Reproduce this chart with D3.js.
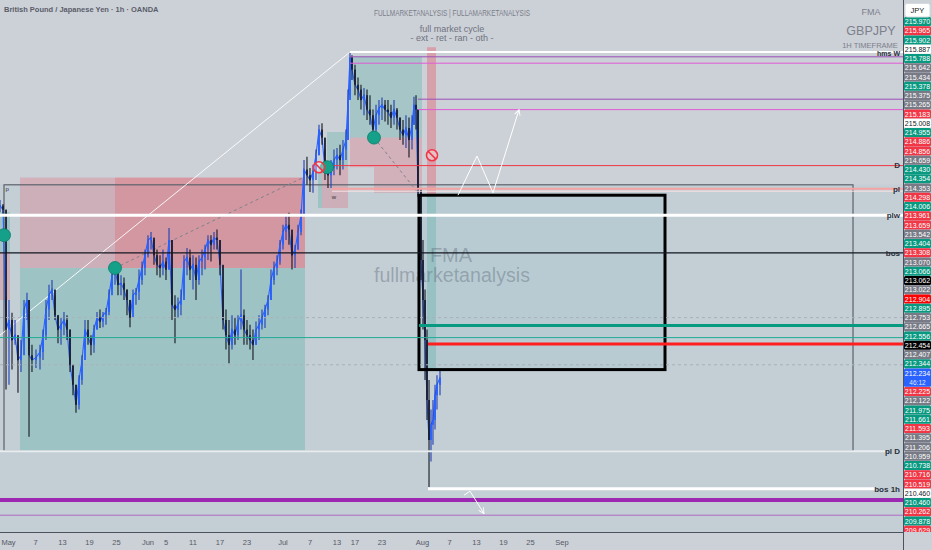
<!DOCTYPE html>
<html><head><meta charset="utf-8">
<script src="https://cdn.jsdelivr.net/npm/d3@7"></script>
<style>
html,body{margin:0;padding:0;background:#ccd0d7;}
svg{display:block;font-family:"Liberation Sans",Arial,sans-serif;}
</style></head><body>
<svg id="c" width="932" height="550"></svg>
<script>
// ---------- DATA (days since 1 May 2025, prices in JPY) ----------
const barDay = [-1.78,-1.11,-0.44,0.22,0.89,1.56,2.22,2.89,3.56,4.22,4.67,5.33,6.22,7.11,7.78,8.44,9.11,9.78,10.44,11.11,11.78,12.44,13.11,13.78,14.44,15.11,15.78,16.44,17.11,17.78,18.44,19.11,19.78,20.44,21.11,21.78,22.44,23.11,23.78,24.44,25.11,25.78,26.44,27.11,27.78,28.44,29.11,29.78,30.44,31.11,31.78,32.44,33.11,33.78,34.44,35.11,35.78,36.44,37.11,37.78,38.44,39.11,39.78,40.44,41.11,41.78,42.44,43.11,43.78,44.44,45.11,45.78,46.44,47.11,47.78,48.44,49.11,49.78,50.44,51.11,51.78,52.44,53.11,53.78,54.44,55.11,55.78,56.44,57.11,57.78,58.44,59.11,59.78,60.44,61.11,61.78,62.44,63.11,63.78,64.44,65.11,65.78,66.44,67.11,67.78,68.44,69.11,69.78,70.44,71.11,71.78,72.44,73.11,73.78,74.44,75.11,75.56,76.00,76.44,77.11,77.78,78.44,79.11,79.78,80.44,81.11,81.78,82.44,83.11,83.78,84.44,85.11,85.78,86.44,87.11,87.78,88.44,89.11,89.78,90.22,90.67,91.11,91.78,92.22,92.67,93.11,93.56,94.00,94.44,94.89,95.33,96.00];
const barHigh = [214.00,213.95,212.79,212.75,212.59,212.50,212.19,212.25,212.75,212.84,212.75,212.19,212.13,212.19,212.38,212.75,212.94,213.00,212.81,212.56,212.53,212.60,212.56,212.38,211.94,211.69,211.81,212.06,212.50,212.50,212.31,212.44,212.60,212.63,212.60,212.65,212.88,213.15,213.19,213.10,213.06,213.03,212.88,212.75,212.88,212.90,213.13,213.23,213.38,213.56,213.60,213.50,213.38,213.31,213.38,213.28,213.65,213.50,212.81,212.78,212.88,213.31,213.40,213.38,213.31,213.28,213.31,213.38,213.44,213.56,213.56,213.60,213.63,213.50,212.88,212.63,212.50,212.56,212.53,212.56,213.13,212.63,212.50,212.44,212.38,212.48,212.56,212.63,212.69,212.81,213.13,213.23,213.31,213.50,213.69,213.81,213.84,213.56,213.44,213.69,213.88,214.50,214.54,214.40,214.44,214.63,214.94,214.96,214.63,214.44,214.50,214.63,214.65,214.69,214.75,214.88,215.38,215.84,215.81,215.69,215.53,215.44,215.40,215.38,215.31,215.13,215.19,215.25,215.28,215.25,215.25,215.19,215.25,215.15,215.03,215.00,215.06,215.03,215.06,215.29,215.31,215.13,214.06,213.50,212.88,212.38,211.75,211.38,211.50,211.69,211.81,211.88];
const barLow = [213.85,213.83,211.63,211.69,211.88,212.19,211.59,211.85,212.25,212.50,211.04,211.85,211.90,211.88,212.00,212.25,212.50,212.75,212.50,212.21,212.19,212.31,212.25,211.85,211.56,211.34,211.38,211.69,212.13,212.19,212.06,212.09,212.38,212.40,212.41,212.44,212.56,212.88,212.94,212.81,212.81,212.75,212.56,212.41,212.63,212.69,212.75,212.94,213.06,213.28,213.38,213.19,213.06,213.03,213.06,213.00,213.13,212.50,212.21,212.53,212.56,212.81,213.06,213.00,212.88,212.75,212.94,213.06,213.13,213.25,213.23,213.38,213.38,213.06,212.38,212.13,211.96,212.13,212.19,212.25,212.38,212.19,212.19,212.13,212.00,212.19,212.25,212.38,212.40,212.56,212.75,212.94,213.06,213.19,213.38,213.50,213.44,213.13,213.15,213.38,213.56,213.81,214.19,214.10,214.09,214.25,214.56,214.69,214.25,214.15,214.15,214.31,214.38,214.31,214.38,214.50,214.75,215.31,215.50,215.31,215.25,215.13,215.06,215.00,214.94,214.79,214.81,214.94,215.00,214.98,214.94,214.90,214.94,214.88,214.75,214.69,214.65,214.53,214.63,214.94,214.88,214.04,213.00,212.38,211.75,211.25,210.41,210.73,210.94,211.13,211.38,211.56];
const barClose = [213.93,213.88,212.38,212.50,212.25,212.31,212.00,212.06,212.63,212.75,212.06,212.00,212.03,212.10,212.31,212.63,212.81,212.88,212.56,212.38,212.44,212.50,212.38,211.94,211.69,211.44,211.75,212.00,212.38,212.28,212.19,212.38,212.53,212.48,212.56,212.60,212.81,213.06,213.13,212.94,212.96,212.88,212.75,212.53,212.81,212.85,213.00,213.15,213.31,213.50,213.53,213.31,213.19,213.15,213.23,213.13,213.50,212.69,212.63,212.69,212.75,213.23,213.28,213.13,213.19,213.00,213.23,213.28,213.38,213.50,213.44,213.53,213.50,213.19,212.50,212.31,212.19,212.38,212.31,212.48,212.56,212.38,212.31,212.25,212.19,212.38,212.44,212.53,212.63,212.75,213.00,213.15,213.23,213.44,213.60,213.69,213.63,213.31,213.38,213.60,213.81,214.38,214.31,214.25,214.35,214.56,214.88,214.78,214.38,214.31,214.40,214.50,214.56,214.50,214.63,214.75,215.25,215.78,215.63,215.44,215.38,215.25,215.31,215.13,215.06,214.88,215.06,215.15,215.19,215.13,215.10,215.03,215.13,215.03,214.88,214.81,214.90,214.75,214.94,215.19,215.13,214.13,213.25,212.75,212.25,211.50,211.00,211.19,211.25,211.56,211.69,211.78];

// position-tool zones: [dayStart, dayEnd, priceTop, priceBottom, kind]
const zones = [
  [2.67,66.0,214.28,213.15,'loss'],
  [23.78,66.0,214.28,213.15,'loss'],
  [2.67,66.0,213.15,210.86,'profit'],
  [-1.78,0.44,213.85,213.35,'profit'],
  [-1.78,0.44,213.35,212.75,'loss'],
  [70.89,75.56,214.85,214.41,'profit'],
  [69.78,75.56,214.41,213.90,'loss'],
  [68.89,69.78,214.41,213.90,'profit'],
  [76.0,92.0,215.79,214.78,'profit'],
  [76.0,81.33,214.78,214.41,'loss'],
  [81.33,92.0,214.78,214.09,'loss'],
  [93.11,95.11,215.91,214.06,'lossStrong'],
  [93.11,95.11,214.06,211.88,'profit']
];
const tintTop = 214.19;
const bigRect = [-0.89,187.78,214.19,210.86];
const blackBox = [91.33,146.0,214.06,211.88];

// horizontal levels
const hLinePrice = [215.85,215.79,215.71,215.26,215.13,214.43,214.14,214.11,213.81,213.34,212.53,211.94,212.43,212.28,212.20,210.86,210.39,210.25,210.06];
const hLineStart = [76.0,76.0,76.0,91.11,91.11,70.0,72.0,72.0,null,null,null,null,91.33,null,93.33,null,93.33,null,null];
const hLineEnd   = [null,null,null,null,null,null,null,null,null,null,null,null,null,null,null,194.89,192.89,null,null];
const hLineKind  = ['white','purple','magenta','purple','magenta','red','salmon','pinkThin','whiteThick','black','dashed','dashed','green','tealThin','redThick','whitePl','whiteThick','purpleThick','purpleThin'];
const hLineLabel = ['hms W','','','','','D','pl','','plw','bos','','','','','','pl D','bos 1h','',''];

// markers
const entryCircles = [[-0.89,213.56],[23.78,213.15],[70.89,214.41],[81.33,214.78]];
const noSigns = [[69.11,214.41],[94.22,214.56]];
const whiteTrend = [[-1.78,212.31],[76.0,215.85]];
const dashedLinks = [[[23.78,213.15],[65.56,214.28]],[[81.33,214.78],[91.11,214.09]]];
const arrowPaths = [[[100.0,214.06],[104.22,214.55],[107.78,214.09],[113.56,215.13]],[[101.33,210.31],[102.67,210.36],[105.78,210.08]]];

// right price-axis labels (stacked)
const axisVals = ['215.970','215.965','215.902','215.887','215.788','215.642','215.434','215.378','215.375','215.265','215.183','215.008','214.955','214.886','214.856','214.659','214.430','214.354','214.353','214.298','214.006','213.961','213.659','213.542','213.404','213.308','213.070','213.066','213.062','213.022','212.904','212.895','212.753','212.665','212.556','212.454','212.407','212.344','212.234','212.225','212.122','211.975','211.661','211.593','211.395','211.206','210.959','210.738','210.716','210.519','210.460','210.460','210.262','209.878','209.629'];
const axisKinds = ['g','r','g','w','g','n','n','g','n','n','r','w','g','r','r','n','g','g','n','r','g','r','r','n','g','r','n','g','k','n','R','g','n','n','g','k','n','g','b','r','n','g','g','r','n','n','n','g','r','r','w','g','r','g','r'];
const countdown = '46:12';

// time-axis ticks
const xTickDates = ['2025-05-01','2025-05-07','2025-05-13','2025-05-19','2025-05-25','2025-06-01','2025-06-05','2025-06-11','2025-06-17','2025-06-23','2025-07-01','2025-07-07','2025-07-13','2025-07-17','2025-07-23','2025-08-01','2025-08-07','2025-08-13','2025-08-19','2025-08-25','2025-09-01'];
const xTickLabels = ['May','7','13','19','25','Jun','5','11','17','23','Jul','7','13','17','23','Aug','7','13','19','25','Sep'];

// ---------- CHART ----------
const W=932,H=550,plotR=903,plotB=532;
const t0 = Date.UTC(2025,4,1);
const toDate = d => new Date(t0 + d*864e5);
const x = d3.scaleUtc().domain([new Date(Date.UTC(2025,4,1)), new Date(Date.UTC(2025,8,1))]).range([8,561.5]);
const y = d3.scaleLinear().domain([209.85,216.5]).range([plotB,0]);
const X = d => x(toDate(d));

const svg = d3.select('#c');
const defs = svg.append('defs');
defs.append('clipPath').attr('id','clip').append('rect').attr('x',0).attr('y',0).attr('width',plotR).attr('height',plotB);
defs.append('clipPath').attr('id','clipAx').append('rect').attr('x',plotR).attr('y',0).attr('width',W-plotR).attr('height',plotB);
defs.append('marker').attr('id','arr').attr('viewBox','0 0 10 10').attr('refX',9).attr('refY',5)
  .attr('markerWidth',7).attr('markerHeight',7).attr('orient','auto-start-reverse')
  .append('path').attr('d','M1,1 L9,5 L1,9').attr('fill','none').attr('stroke','#fff').attr('stroke-width',1.3);

svg.append('rect').attr('width',W).attr('height',H).attr('fill','#ccd0d7');
const plot = svg.append('g').attr('clip-path','url(#clip)');

// tint area
plot.append('rect').attr('x',0).attr('y',y(tintTop)).attr('width',plotR).attr('height',plotB-y(tintTop)).attr('fill','#c3ced5');

const zoneFill = {profit:'rgba(8,153,129,0.2)',loss:'rgba(242,54,69,0.2)',lossStrong:'rgba(242,54,69,0.3)'};
plot.selectAll('rect.zone').data(zones).join('rect').attr('class','zone')
  .attr('x',d=>X(d[0])).attr('width',d=>X(d[1])-X(d[0]))
  .attr('y',d=>y(d[2])).attr('height',d=>y(d[3])-y(d[2]))
  .attr('fill',d=>zoneFill[d[4]]);

// black box fill
plot.append('rect').attr('x',X(blackBox[0])).attr('y',y(blackBox[2]))
  .attr('width',X(blackBox[1])-X(blackBox[0])).attr('height',y(blackBox[3])-y(blackBox[2]))
  .attr('fill','rgba(110,180,190,0.12)');

// big rectangle outline
plot.append('rect').attr('x',X(bigRect[0])).attr('y',y(bigRect[2]))
  .attr('width',X(bigRect[1])-X(bigRect[0])).attr('height',y(bigRect[3])-y(bigRect[2]))
  .attr('fill','none').attr('stroke','#5d616c').attr('stroke-width',1.2);
plot.append('text').attr('x',X(bigRect[0])+1.5).attr('y',y(bigRect[2])+6).attr('font-size',6).attr('fill','#333').text('p');

// watermark
plot.append('text').attr('x',451).attr('y',262).attr('text-anchor','middle').attr('font-size',20)
  .attr('fill','rgba(100,112,126,0.45)').text('FMA');
plot.append('text').attr('x',452).attr('y',282).attr('text-anchor','middle').attr('font-size',20)
  .attr('textLength',156).attr('lengthAdjust','spacingAndGlyphs')
  .attr('fill','rgba(100,112,126,0.45)').text('fullmarketanalysis');

// white trend line
const ln = d3.line().x(d=>X(d[0])).y(d=>y(d[1]));
plot.append('path').attr('d',ln(whiteTrend)).attr('stroke','rgba(255,255,255,0.9)').attr('stroke-width',1).attr('fill','none');
dashedLinks.forEach(p=>plot.append('path').attr('d',ln(p)).attr('stroke','#7d828d').attr('stroke-width',1).attr('stroke-dasharray','3,3').attr('fill','none'));

// candles
const bars = barDay.map((d,i)=>({d,h:barHigh[i],l:barLow[i],c:barClose[i],o:i?barClose[i-1]:barClose[i]}));
plot.append('path').attr('d',d3.line().x(b=>X(b.d)).y(b=>y(b.c))(bars))
  .attr('fill','none').attr('stroke','#2962ff').attr('stroke-width',1.1);
plot.selectAll('line.wick').data(bars).join('line').attr('class','wick')
  .attr('x1',b=>X(b.d)).attr('x2',b=>X(b.d)).attr('y1',b=>y(b.h)).attr('y2',b=>y(b.l))
  .attr('stroke',b=>b.c>=b.o?'#1f3fb8':'#131722').attr('stroke-width',1.1);
plot.selectAll('rect.body').data(bars).join('rect').attr('class','body')
  .attr('x',b=>X(b.d)-0.9).attr('width',1.8)
  .attr('y',b=>y(Math.max(b.o,b.c))).attr('height',b=>Math.max(1,Math.abs(y(b.o)-y(b.c))))
  .attr('fill',b=>b.c>=b.o?'#2962ff':'#1a1f36');

// black box outline
plot.append('rect').attr('x',X(blackBox[0])).attr('y',y(blackBox[2]))
  .attr('width',X(blackBox[1])-X(blackBox[0])).attr('height',y(blackBox[3])-y(blackBox[2]))
  .attr('fill','none').attr('stroke','#000').attr('stroke-width',3);

// horizontal levels
const lineStyle = {
  white:['#ffffff',2],purple:['#9c4fb8',1],magenta:['#e05ad6',1],red:['#f23645',1],
  salmon:['#f4a2a2',2],pinkThin:['#fbe3e3',1],whiteThick:['#ffffff',3],black:['#131722',1.3],
  dashed:['#a9b1b9',1],green:['#089981',3],tealThin:['#22ab94',1],redThick:['#ff1f1f',3],
  whitePl:['#e8edf0',2],purpleThick:['#9c27b0',4],purpleThin:['#b06ac2',1]
};
hLinePrice.forEach((p,i)=>{
  const st = lineStyle[hLineKind[i]];
  const x1 = hLineStart[i]===null?0:X(hLineStart[i]);
  const x2 = hLineEnd[i]===null?plotR:X(hLineEnd[i]);
  plot.append('line').attr('x1',x1).attr('x2',x2).attr('y1',y(p)).attr('y2',y(p))
    .attr('stroke',st[0]).attr('stroke-width',st[1])
    .attr('stroke-dasharray',hLineKind[i]==='dashed'?'3,3':null);
});
// entry circles
plot.selectAll('circle.entry').data(entryCircles).join('circle').attr('class','entry')
  .attr('cx',d=>X(d[0])).attr('cy',d=>y(d[1])).attr('r',6.5)
  .attr('fill','#14a089').attr('stroke','#0d7d6b').attr('stroke-width',0.8);
// no signs
noSigns.forEach(d=>{
  const g = plot.append('g').attr('transform',`translate(${X(d[0])},${y(d[1])})`);
  g.append('circle').attr('r',5.5).attr('fill','rgba(255,255,255,0.35)').attr('stroke','#f23645').attr('stroke-width',1.6);
  g.append('line').attr('x1',-3.9).attr('y1',-3.9).attr('x2',3.9).attr('y2',3.9).attr('stroke','#f23645').attr('stroke-width',1.6);
});
// projection arrows
arrowPaths.forEach(p=>plot.append('path').attr('d',ln(p)).attr('fill','none').attr('stroke','#fff').attr('stroke-width',1).attr('marker-end','url(#arr)'));
plot.append('text').attr('x',X(72.44)).attr('y',y(214.09)+6).attr('text-anchor','middle').attr('font-size',6).attr('fill','#333').text('w');

// level labels
hLinePrice.forEach((p,i)=>{
  if(!hLineLabel[i]) return;
  const first = i===0;
  plot.append('text').attr('x',900).attr('y',y(p)+(first?1.5:0)).attr('dy','0.35em').attr('text-anchor','end')
    .attr('font-size',first?7:8).attr('font-weight','bold').attr('fill','#2a2e39').text(hLineLabel[i]);
});

// top texts
svg.append('text').attr('x',4).attr('y',12).attr('font-size',7.5).attr('font-weight','bold').attr('fill','#5a5e6a')
  .text('British Pound / Japanese Yen · 1h · OANDA');
svg.append('text').attr('x',452).attr('y',16).attr('text-anchor','middle').attr('font-size',8.5)
  .attr('textLength',156).attr('lengthAdjust','spacingAndGlyphs').attr('fill','#7a7e89')
  .text('FULLMARKETANALYSIS | FULLAMARKETANALYSIS');
svg.append('text').attr('x',452).attr('y',32).attr('text-anchor','middle').attr('font-size',9).attr('fill','#6f737e').text('full market cycle');
svg.append('text').attr('x',452).attr('y',41).attr('text-anchor','middle').attr('font-size',9).attr('fill','#6f737e').text('- ext - ret - ran - oth -');
svg.append('text').attr('x',871).attr('y',15).attr('text-anchor','middle').attr('font-size',9).attr('fill','#7c808b').text('FMA');
svg.append('text').attr('x',871).attr('y',35).attr('text-anchor','middle').attr('font-size',12.5).attr('fill','#7c808b').text('GBPJPY');
svg.append('text').attr('x',870).attr('y',47.5).attr('text-anchor','middle').attr('font-size',7.5).attr('fill','#7c808b').text('1H TIMEFRAME');

// axes lines
svg.append('line').attr('x1',0).attr('x2',plotR).attr('y1',plotB+0.5).attr('y2',plotB+0.5).attr('stroke','#4d515c');
svg.append('line').attr('x1',plotR+0.5).attr('x2',plotR+0.5).attr('y1',0).attr('y2',H).attr('stroke','#4d515c');

// bottom axis
const xAxis = d3.axisBottom(x).tickValues(xTickDates.map(s=>new Date(s+'T00:00:00Z')))
  .tickFormat((d,i)=>xTickLabels[i]).tickSize(0).tickPadding(8);
const gx = svg.append('g').attr('transform',`translate(0,${plotB})`).call(xAxis);
gx.select('.domain').remove();
gx.selectAll('text').attr('font-size',7.5).attr('fill','#555a66').attr('font-family','"Liberation Sans",Arial,sans-serif');

// right axis stacked labels
const kindCol = {g:['#089981','#fff'],r:['#f23645','#fff'],R:['#ff0000','#fff'],n:['#787b86','#fff'],
  w:['#ffffff','#131722'],k:['#000000','#fff'],b:['#2962ff','#fff']};
const slotY = d3.scaleLinear().domain([0,55]).range([21.7,530.3]);
const ax = svg.append('g').attr('clip-path','url(#clipAx)');
let slot = 0;
axisVals.forEach((v,i)=>{
  const k = axisKinds[i]; const span = k==='b'?2:1;
  const top = slotY(slot)-4.6, h = slotY(slot+span)-slotY(slot);
  ax.append('rect').attr('x',904).attr('y',top).attr('width',27).attr('height',h-0.3).attr('rx',1.5).attr('fill',kindCol[k][0]);
  ax.append('text').attr('x',917.5).attr('y',slotY(slot)).attr('dy','0.35em').attr('text-anchor','middle')
    .attr('font-size',7).attr('fill',kindCol[k][1]).text(v);
  if(k==='b') ax.append('text').attr('x',917.5).attr('y',slotY(slot+1)).attr('dy','0.35em').attr('text-anchor','middle')
    .attr('font-size',6.5).attr('fill','#dfe6ff').text(countdown);
  slot += span;
});
// JPY box
svg.append('rect').attr('x',905).attr('y',3.5).attr('width',25).attr('height',13.5).attr('rx',2).attr('fill','#fff').attr('stroke','#d6d9de');
svg.append('text').attr('x',917.5).attr('y',10.5).attr('dy','0.35em').attr('text-anchor','middle').attr('font-size',7.5).attr('fill','#131722').text('JPY');
</script>
</body></html>
